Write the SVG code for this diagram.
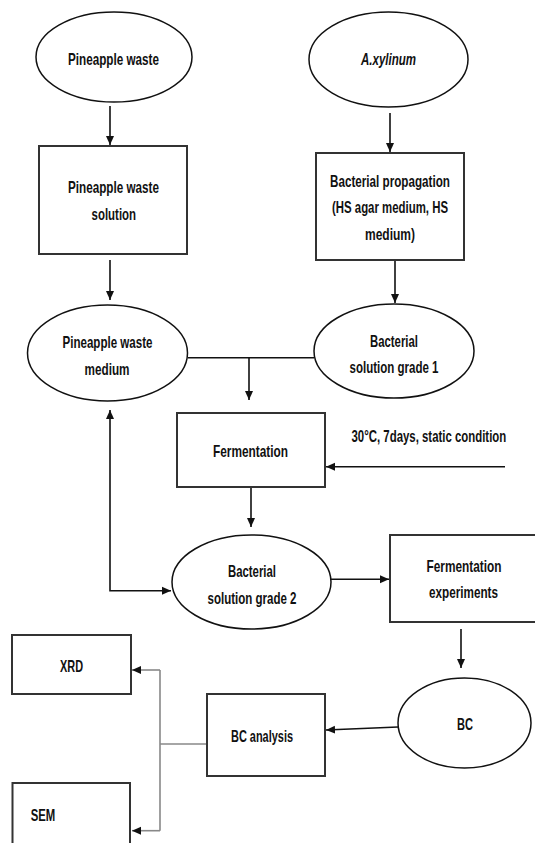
<svg xmlns="http://www.w3.org/2000/svg" width="535" height="843" viewBox="0 0 535 843">
<style>
.bg{fill:#fff}
.ell{fill:#fff;stroke:#111;stroke-width:1.5}
.box{fill:#fff;stroke:#333;stroke-width:2}
.t{font-family:"Liberation Sans",Arial,sans-serif;font-weight:bold;font-size:16.5px;fill:#111;text-anchor:middle}
.c{fill:none;stroke:#111;stroke-width:1.6}
.g{fill:none;stroke:#888;stroke-width:1.6}
</style>
<defs>
<marker id="ah" markerUnits="userSpaceOnUse" markerWidth="10" markerHeight="10" refX="9" refY="5" orient="auto-start-reverse">
<path d="M0,1 L9,5 L0,9 z" fill="#111"/>
</marker>
</defs>
<rect class="bg" x="0" y="0" width="535" height="843"/>
<g id="connectors">
<path class="c" d="M110,106 V145" marker-end="url(#ah)"/>
<path class="c" d="M390,113 V152" marker-end="url(#ah)"/>
<path class="c" d="M110,260 V300" marker-end="url(#ah)"/>
<path class="c" d="M395,260 V303" marker-end="url(#ah)"/>
<path class="c" d="M188,357.7 H314"/>
<path class="c" d="M249,358 V400" marker-end="url(#ah)"/>
<path class="c" d="M505,466.7 H326" marker-end="url(#ah)"/>
<path class="c" d="M251,487 V527" marker-end="url(#ah)"/>
<path class="c" d="M110,410 V590.7 H171" marker-start="url(#ah)" marker-end="url(#ah)"/>
<path class="c" d="M331,579.3 H389" marker-end="url(#ah)"/>
<path class="c" d="M461,629 V668" marker-end="url(#ah)"/>
<path class="c" d="M398,727 L326,730" marker-end="url(#ah)"/>
<path class="g" d="M207,744 H160"/>
<path class="g" d="M160,670 V830.7"/>
<path class="g" d="M160,670 H132" marker-end="url(#ah)"/>
<path class="g" d="M160,830.7 H132" marker-end="url(#ah)"/>
</g>
<g id="pineapple-waste">
<ellipse class="ell" cx="114" cy="57" rx="78" ry="45"/>
<text class="t" x="113.5" y="65" textLength="91" lengthAdjust="spacingAndGlyphs">Pineapple waste</text>
</g>
<g id="axylinum">
<ellipse class="ell" cx="388.5" cy="59.5" rx="79.5" ry="47.5"/>
<text class="t" x="388.5" y="65" font-style="italic" textLength="55" lengthAdjust="spacingAndGlyphs">A.xylinum</text>
</g>
<g id="pineapple-waste-solution">
<rect class="box" x="39" y="146" width="148" height="108"/>
<text class="t" x="113.5" y="192.7" textLength="91" lengthAdjust="spacingAndGlyphs">Pineapple waste</text>
<text class="t" x="113.8" y="220" textLength="44.5" lengthAdjust="spacingAndGlyphs">solution</text>
</g>
<g id="bacterial-propagation">
<rect class="box" x="316" y="153" width="148" height="107"/>
<text class="t" x="390" y="186.7" textLength="120" lengthAdjust="spacingAndGlyphs">Bacterial propagation</text>
<text class="t" x="390" y="213" textLength="116" lengthAdjust="spacingAndGlyphs">(HS agar medium, HS</text>
<text class="t" x="390" y="240" textLength="50" lengthAdjust="spacingAndGlyphs">medium)</text>
</g>
<g id="pineapple-waste-medium">
<ellipse class="ell" cx="107.5" cy="353" rx="80" ry="48"/>
<text class="t" x="107.5" y="348.3" textLength="90" lengthAdjust="spacingAndGlyphs">Pineapple waste</text>
<text class="t" x="107" y="375" textLength="45" lengthAdjust="spacingAndGlyphs">medium</text>
</g>
<g id="bacterial-solution-grade-1">
<ellipse class="ell" cx="394" cy="351" rx="80" ry="47"/>
<text class="t" x="394" y="346.7" textLength="48" lengthAdjust="spacingAndGlyphs">Bacterial</text>
<text class="t" x="394" y="373.3" textLength="89" lengthAdjust="spacingAndGlyphs">solution grade 1</text>
</g>
<g id="fermentation">
<rect class="box" x="177" y="413" width="148" height="74"/>
<text class="t" x="250.5" y="456.7" textLength="75" lengthAdjust="spacingAndGlyphs">Fermentation</text>
</g>
<g id="condition-label" transform="translate(351.5,441.7) scale(0.692,1)">
<text class="t" x="0" y="0" style="text-anchor:start">30°C, 7days, static condition</text>
</g>
<g id="bacterial-solution-grade-2">
<ellipse class="ell" cx="251.5" cy="582" rx="79.5" ry="47"/>
<text class="t" x="252" y="576.7" textLength="48" lengthAdjust="spacingAndGlyphs">Bacterial</text>
<text class="t" x="252" y="604" textLength="89" lengthAdjust="spacingAndGlyphs">solution grade 2</text>
</g>
<g id="fermentation-experiments">
<rect class="box" x="390" y="535" width="150" height="87"/>
<text class="t" x="464" y="571.7" textLength="75" lengthAdjust="spacingAndGlyphs">Fermentation</text>
<text class="t" x="463.5" y="598.3" textLength="69" lengthAdjust="spacingAndGlyphs">experiments</text>
</g>
<g id="bc">
<ellipse class="ell" cx="464.5" cy="723" rx="66.5" ry="45"/>
<text class="t" x="465" y="730" textLength="16" lengthAdjust="spacingAndGlyphs">BC</text>
</g>
<g id="bc-analysis">
<rect class="box" x="207" y="694" width="118" height="82"/>
<text class="t" x="262" y="741.7" textLength="62" lengthAdjust="spacingAndGlyphs">BC analysis</text>
</g>
<g id="xrd">
<rect class="box" x="12" y="635" width="119" height="59"/>
<text class="t" x="71.5" y="671.7" textLength="23" lengthAdjust="spacingAndGlyphs">XRD</text>
</g>
<g id="sem">
<rect class="box" x="12.5" y="783" width="117.5" height="80"/>
<text class="t" x="43" y="821" textLength="24.6" lengthAdjust="spacingAndGlyphs">SEM</text>
</g>
</svg>
